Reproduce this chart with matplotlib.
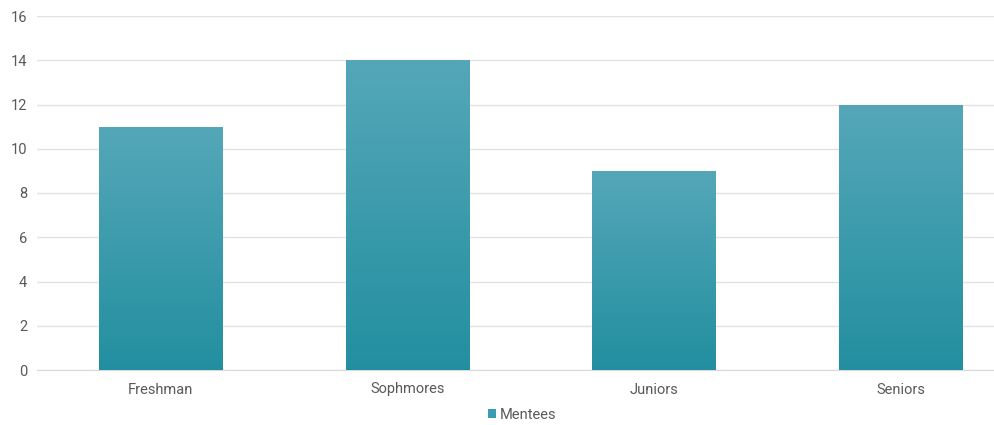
import numpy as np
import matplotlib
matplotlib.use("Agg")
import matplotlib.pyplot as plt
from matplotlib.colors import LinearSegmentedColormap
from matplotlib.patches import Patch

categories = ["Freshman", "Sophmores", "Juniors", "Seniors"]
mentees = [11, 14, 9, 12]
y_ticks = [0, 2, 4, 6, 8, 10, 12, 14, 16]
series_name = "Mentees"

plt.rcParams["font.family"] = ["Roboto", "DejaVu Sans"]

W, H = 994, 425
fig = plt.figure(figsize=(W / 100, H / 100), dpi=100)
ax = fig.add_axes([37 / W, 1 - 370 / H, (W - 37) / W, (370 - 16) / H])

x = np.arange(len(categories))
bars = ax.bar(x, mentees, width=0.5, color="none", edgecolor="none", zorder=3)

# vertical teal gradient inside each bar
grad = LinearSegmentedColormap.from_list("teal", ["#228fa0", "#55a7b8"])
col = np.linspace(0, 1, 256).reshape(-1, 1)
for b in bars:
    x0, y0 = b.get_x(), b.get_y()
    w, h = b.get_width(), b.get_height()
    im = ax.imshow(col, cmap=grad, aspect="auto", origin="lower",
                   extent=[x0, x0 + w, y0, y0 + h], zorder=3,
                   interpolation="bilinear")
    im.set_clip_path(b)

ax.set_xlim(-0.5, (W - 160) / 247)
ax.set_ylim(0, 16)
ax.set_yticks(y_ticks)
ax.set_xticks(x)
ax.set_xticklabels(categories)
ax.yaxis.grid(True, color="#e2e2e2", linewidth=1.0, zorder=0)
ax.set_axisbelow(True)
for s in ax.spines.values():
    s.set_visible(False)
ax.spines["bottom"].set_visible(True)
ax.spines["bottom"].set_color("#d9d9d9")
ax.tick_params(axis="both", length=0, labelsize=10.5, colors="#595959")
ax.tick_params(axis="y", pad=7)
ax.tick_params(axis="x", pad=9)

handle = Patch(facecolor="#3a9db0", edgecolor="none")
fig.legend([handle], [series_name], loc="center", bbox_to_anchor=(522 / W, 1 - 415 / H),
           frameon=False, fontsize=10.5, handlelength=0.55, handleheight=0.55,
           handletextpad=0.25, labelcolor="#595959")

fig.savefig("out.png", dpi=100, facecolor="white")
